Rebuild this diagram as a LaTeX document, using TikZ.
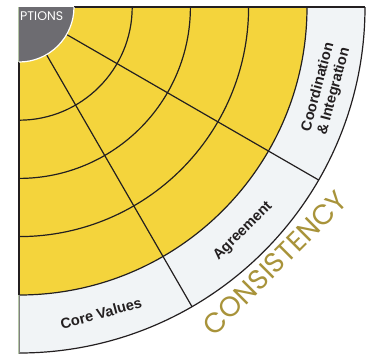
\documentclass[tikz,border=0pt]{standalone}
\usepackage{fontspec}
\setmainfont{Liberation Sans}
\newfontfamily\geo{Poppins}
\definecolor{yel}{HTML}{F4D43C}
\definecolor{band}{HTML}{F1F4F6}
\definecolor{dgrey}{HTML}{6D6C71}
\definecolor{olive}{HTML}{A8933A}
\definecolor{ink}{HTML}{231F20}
\definecolor{edge}{HTML}{B5C6A6}
\begin{document}
\begin{tikzpicture}[x=1pt,y=-1pt,line join=round,
  ringline/.style={ink,line width=1.2pt},
  bandlabel/.style={text=ink,font=\bfseries\fontsize{14.6}{16.5}\selectfont,inner sep=0pt,align=center}]
\useasboundingbox (0,0) rectangle (367,354);
\begin{scope}[shift={(19,7)}]
  \coordinate (C) at (0,0);
  % outer band
  \fill[band] (C) -- (346,0) arc[start angle=0,end angle=90,radius=346] -- cycle;
  % yellow field
  \fill[yel] (C) -- (288,0) arc[start angle=0,end angle=90,radius=288] -- cycle;
  % inner rings
  \foreach \r in {113.2,171.4,229.6}
    \draw[ringline] (\r,0) arc[start angle=0,end angle=90,radius=\r];
  % yellow boundary and outer arc
  \draw[ringline] (288,0) arc[start angle=0,end angle=90,radius=288];
  \draw[ringline] (346,0) arc[start angle=0,end angle=90,radius=346];
  % radial dividers
  \foreach \a in {30,60}
    \draw[ringline] (\a:55) -- (\a:346);
  % edges
  \draw[edge,line width=0.8pt] (-0.9,0) -- (-0.9,346.5);
  \draw[ink,line width=1.1pt] (0,55) -- (0,288);
  \draw[gray,line width=0.8pt] (0,288) -- (0,346);
  \draw[ink,line width=1.4pt] (55,0) -- (346,0);
  % grey centre
  \fill[dgrey] (C) -- (55,0) arc[start angle=0,end angle=90,radius=55] -- cycle;
  \draw[white,line width=1.2pt] (55,0) arc[start angle=0,end angle=90,radius=55];
  \node[anchor=base west,inner sep=0pt,text=white,font=\geo\fontsize{12.5}{14}\selectfont] (opt) at (1,13) {PTIONS};
  % band labels
  \node[bandlabel,rotate=15] (core) at (75:317) {Core Values};
  \node[bandlabel,rotate=45] (agr) at (45:317) {Agreement};
  \node[bandlabel,rotate=75] (coord) at (15:318) {Coordination\\\& Integration};
  % outer title
  \node[text=olive,inner sep=0pt,rotate=45,font=\geo\fontsize{28}{32}\selectfont] (cons) at (45:362) {CONSISTENCY};
\end{scope}
\end{tikzpicture}
\end{document}
